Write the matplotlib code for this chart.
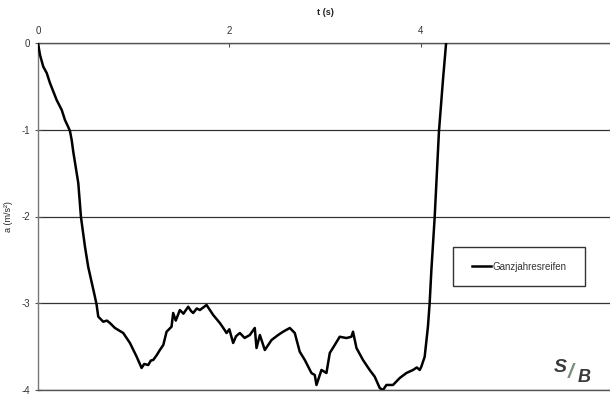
import matplotlib
matplotlib.use("Agg")
import matplotlib.pyplot as plt
from matplotlib.patches import Rectangle

plt.rcParams['font.family'] = ['Liberation Sans', 'DejaVu Sans']

# Braking deceleration trace, all-season tyre
t_s = [0.000, 0.021, 0.055, 0.091, 0.125, 0.195, 0.248, 0.282, 0.316, 0.334,
       0.352, 0.369, 0.421, 0.449, 0.491, 0.525, 0.595, 0.613, 0.630, 0.682,
       0.720, 0.752, 0.804, 0.891, 0.961, 1.031, 1.083, 1.110, 1.152, 1.180,
       1.204, 1.240, 1.274, 1.310, 1.344, 1.396, 1.413, 1.440, 1.483, 1.520,
       1.570, 1.600, 1.622, 1.660, 1.692, 1.762, 1.831, 1.901, 1.940, 1.971,
       2.000, 2.040, 2.070, 2.110, 2.160, 2.214, 2.266, 2.284, 2.319, 2.371,
       2.441, 2.510, 2.562, 2.632, 2.684, 2.736, 2.789, 2.858, 2.893, 2.911,
       2.963, 3.015, 3.050, 3.102, 3.154, 3.224, 3.276, 3.293, 3.329, 3.397,
       3.467, 3.520, 3.572, 3.606, 3.642, 3.711, 3.781, 3.851, 3.920, 3.960,
       3.990, 4.007, 4.042, 4.076, 4.094, 4.112, 4.146, 4.191, 4.233, 4.266]

a_ms2 = [0.000, -0.138, -0.273, -0.346, -0.461, -0.657, -0.772, -0.888, -0.968, -1.014,
         -1.118, -1.256, -1.614, -2.006, -2.348, -2.582, -2.925, -3.020, -3.155, -3.213,
         -3.200, -3.228, -3.285, -3.343, -3.458, -3.616, -3.746, -3.700, -3.712, -3.660,
         -3.654, -3.600, -3.539, -3.480, -3.328, -3.270, -3.112, -3.200, -3.078, -3.120,
         -3.040, -3.090, -3.112, -3.060, -3.078, -3.020, -3.135, -3.228, -3.290, -3.343,
         -3.300, -3.458, -3.380, -3.343, -3.400, -3.366, -3.285, -3.516, -3.366, -3.539,
         -3.424, -3.366, -3.328, -3.285, -3.343, -3.559, -3.654, -3.804, -3.827, -3.942,
         -3.769, -3.804, -3.573, -3.481, -3.386, -3.401, -3.386, -3.328, -3.516, -3.654,
         -3.769, -3.847, -3.977, -4.000, -3.942, -3.942, -3.862, -3.804, -3.769, -3.740,
         -3.769, -3.731, -3.616, -3.270, -2.997, -2.617, -2.017, -1.022, -0.427, 0.000]

series_label = "Ganzjahresreifen"
x_ticks = [0, 2, 4, 6]
y_ticks = [0, -1, -2, -3, -4]

W, H = 610, 394
fig = plt.figure(figsize=(W / 100, H / 100), dpi=100)
ax = fig.add_axes([38 / W, 1 - 390 / H, 574 / W, 347 / H])

ax.plot(t_s, a_ms2, color='black', lw=1.8, solid_joinstyle='round',
        label=series_label, zorder=3)

ax.set_xlim(0, 6)
ax.set_ylim(-4, 0)

ax.xaxis.set_ticks_position('top')
ax.xaxis.set_label_position('top')
ax.set_xticks(x_ticks)
ax.set_yticks(y_ticks)
ax.set_yticklabels([str(v) for v in y_ticks])
ax.tick_params(axis='x', direction='in', length=3, width=0.8, colors='#555555',
               labelcolor='#333333', labelsize=7, pad=5)
ax.tick_params(axis='y', direction='inout', length=5, width=0.8, colors='#555555',
               labelcolor='#333333', labelsize=7, pad=3)

ax.set_xlabel('t (s)', fontsize=6.5, fontweight='bold', color='#222222', labelpad=8)
ax.set_ylabel('a (m/s²)', fontsize=6.5, color='#222222', labelpad=6)

ax.yaxis.grid(True, color='#333333', lw=0.9)
ax.set_axisbelow(True)
for side in ['top', 'bottom']:
    ax.spines[side].set_color('#555555')
    ax.spines[side].set_linewidth(1.0)
ax.spines['left'].set_color('#777777')
ax.spines['left'].set_linewidth(1.0)
ax.spines['right'].set_visible(False)

# Legend box
bx0, by0 = (453 - 38) / 574, (390 - 286) / 347
bw, bh = 132 / 574, 39 / 347
ax.add_patch(Rectangle((bx0, by0), bw, bh, transform=ax.transAxes,
                       facecolor='white', edgecolor='#333333', lw=1.0, zorder=4))
leg = ax.legend(loc='center', bbox_to_anchor=(bx0 + bw / 2, by0 + bh / 2),
                frameon=False, fontsize=7, handlelength=2.0, handletextpad=0.1,
                borderpad=0)
leg.set_zorder(5)
for txt in leg.get_texts():
    txt.set_color('#333333')

# Logo
fig.text(560 / W, 1 - 367 / H, 'S', fontsize=14, fontstyle='italic',
         fontweight='bold', color='#3a3a3a', ha='center', va='center')
fig.text(571 / W, 1 - 373 / H, '/', fontsize=15, fontstyle='italic',
         fontweight='bold', color='#7a8f7a', ha='center', va='center')
fig.text(584 / W, 1 - 377 / H, 'B', fontsize=13, fontstyle='italic',
         fontweight='bold', color='#3a3a3a', ha='center', va='center')

fig.savefig('out.png', dpi=100)
